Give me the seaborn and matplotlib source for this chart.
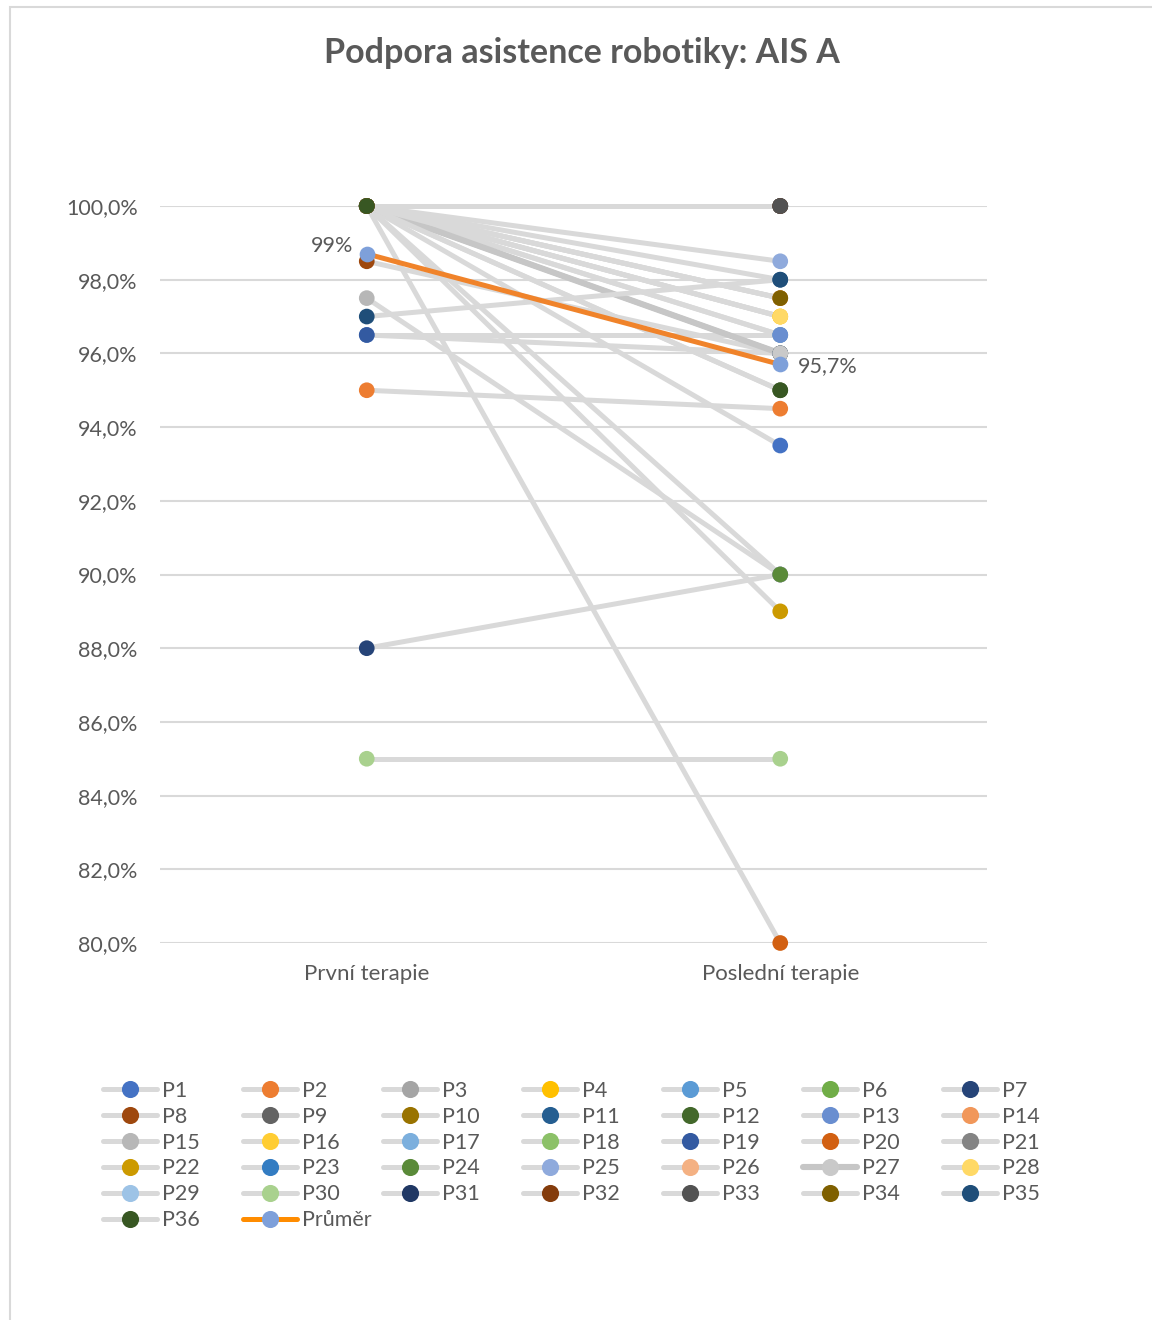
import numpy as np
import pandas as pd
import matplotlib
matplotlib.use("Agg")
import matplotlib.pyplot as plt
from matplotlib.lines import Line2D
from matplotlib.patches import Rectangle
from matplotlib.ticker import FuncFormatter, MultipleLocator
import seaborn as sns

# ---- data -------------------------------------------------------------
sessions = ["První terapie", "Poslední terapie"]
patients = [f"P{i}" for i in range(1, 37)]

first_therapy = [100, 95, 100, 100, 100, 100, 88, 98.5, 100, 100,
                 100, 100, 96.5, 100, 97.5, 100, 100, 100, 96.5, 100,
                 100, 100, 100, 100, 100, 100, 100, 100, 100, 85,
                 100, 100, 100, 100, 97, 100]
last_therapy = [93.5, 94.5, 96.5, 97, 96.5, 96, 90, 96, 100, 97.5,
                98, 95, 96.5, 97.5, 90, 97, 96, 100, 96, 80,
                96, 89, 100, 90, 98.5, 100, 96, 97, 100, 85,
                100, 100, 100, 97.5, 98, 95]
mean_values = [98.7, 95.7]
mean_label = "Průměr"

patient_colors = ["#4472C4", "#ED7D31", "#A5A5A5", "#FFC000", "#5B9BD5", "#70AD47",
                  "#264478", "#9E480E", "#636363", "#997300", "#255E91", "#43682B",
                  "#698ED0", "#F1975A", "#B7B7B7", "#FFCD33", "#7CAFDD", "#8CC168",
                  "#335AA1", "#D26012", "#848484", "#CC9A00", "#337CC2", "#5A8A39",
                  "#8FAADC", "#F4B183", "#C9C9C9", "#FFD966", "#9DC3E6", "#A9D18E",
                  "#203864", "#843C0C", "#525252", "#7F6000", "#1F4E79", "#385723"]

title = "Podpora asistence robotiky: AIS A"

# ---- styling ----------------------------------------------------------
sns.set_theme(style="white")
plt.rcParams["font.family"] = ["Lato", "DejaVu Sans"]
TXT = "#595959"
GRID = "#D9D9D9"
LINE_GRAY = "#D9D9D9"
MEAN_LINE = "#F0832A"
MEAN_MARK = "#7EA0DA"
LW = 3.6
MS = 11.3
FS = 15.5

W, H = 1152, 1320
fig = plt.figure(figsize=(W / 100, H / 100), dpi=100)
ax = fig.add_axes([160 / W, 1 - 943 / H, (987 - 160) / W, (943 - 206) / H])

# long-form table: one row per patient and session
rows = []
for p, a, b in zip(patients, first_therapy, last_therapy):
    rows.append({"patient": p, "pos": 0, "value": a})
    rows.append({"patient": p, "pos": 1, "value": b})
df = pd.DataFrame(rows)

line_palette = {p: LINE_GRAY for p in patients}
line_palette["P27"] = "#C6C6C6"
line_sizes = {p: LW for p in patients}
line_sizes["P27"] = LW + 0.8

sns.lineplot(data=df, x="pos", y="value", hue="patient", hue_order=patients,
             palette=line_palette, size="patient", sizes=line_sizes,
             size_order=patients, estimator=None, sort=False, legend=False,
             ax=ax, zorder=2)
for ln in ax.lines:
    ln.set_clip_on(False)
    ln.set_solid_capstyle("butt")

mean_df = pd.DataFrame({"pos": [0, 1], "value": mean_values})
sns.lineplot(data=mean_df, x="pos", y="value", color=MEAN_LINE, linewidth=LW,
             estimator=None, sort=False, ax=ax, zorder=3)

color_map = dict(zip(patients, patient_colors))
sns.scatterplot(data=df, x="pos", y="value", hue="patient", hue_order=patients,
                palette=color_map, s=MS ** 2, linewidth=0, legend=False,
                ax=ax, zorder=4, clip_on=False)
sns.scatterplot(data=mean_df, x="pos", y="value", color=MEAN_MARK, s=MS ** 2,
                linewidth=0, legend=False, ax=ax, zorder=5, clip_on=False)

# value labels on the mean series
ax.annotate(f"{mean_values[0]:.0f}%", xy=(0, mean_values[0]), xytext=(-10, 5.5),
            textcoords="offset points", ha="right", va="center",
            fontsize=FS, color=TXT, zorder=6)
ax.annotate(f"{mean_values[1]:.1f}".replace(".", ",") + "%", xy=(1, mean_values[1]),
            xytext=(13, -1.5), textcoords="offset points", ha="left", va="center",
            fontsize=FS, color=TXT, zorder=6)

# axes
ax.set_xlim(-0.5, 1.5)
ax.set_ylim(80, 100)
ax.set_xticks([0, 1])
ax.set_xticklabels(sessions)
ax.yaxis.set_major_locator(MultipleLocator(2))
ax.yaxis.set_major_formatter(FuncFormatter(lambda v, _: f"{v:.1f}".replace(".", ",") + "%"))
ax.tick_params(axis="y", length=0, pad=16, labelsize=FS, labelcolor=TXT)
ax.tick_params(axis="x", length=0, pad=15, labelsize=16, labelcolor=TXT)
ax.set_xlabel("")
ax.set_ylabel("")
ax.grid(axis="y", color=GRID, linewidth=1.5)
ax.grid(axis="x", visible=False)
ax.set_axisbelow(True)
for s in ax.spines.values():
    s.set_visible(False)

fig.text(582 / W, 1 - 53 / H, title, ha="center", va="center", fontsize=24.5,
         fontweight="bold", color=TXT)

# legend laid out row by row, seven entries per row
handles = [Line2D([0], [0], color=line_palette[p], lw=line_sizes[p], marker="o",
                  markersize=MS, markerfacecolor=c, markeredgecolor=c)
           for p, c in zip(patients, patient_colors)]
handles.append(Line2D([0], [0], color="#FF8C00", lw=LW, marker="o", markersize=MS,
                      markerfacecolor=MEAN_MARK, markeredgecolor=MEAN_MARK))
labels = patients + [mean_label]
ncols = 7
for c in range(ncols):
    idx = list(range(c, len(labels), ncols))
    fig.legend([handles[i] for i in idx], [labels[i] for i in idx],
               loc="upper left", bbox_to_anchor=((103 + 140 * c) / W, 1 - 1081 / H),
               frameon=False, fontsize=FS, labelcolor=TXT, handlelength=2.5,
               handletextpad=0.22, labelspacing=0.27, borderpad=0, borderaxespad=0)

# chart frame
fig.add_artist(Rectangle((9.5 / W, -0.1), 2.0, 1.1 - 7.5 / H,
                         transform=fig.transFigure, facecolor="none",
                         edgecolor="#D9D9D9", linewidth=1.5, clip_on=False))

fig.savefig("out.png", dpi=100, facecolor="white")
